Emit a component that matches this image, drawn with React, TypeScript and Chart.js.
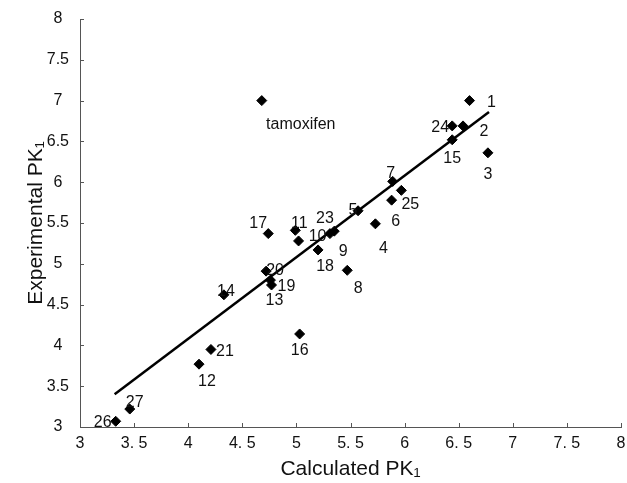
import React, { useEffect, useRef } from 'react';
import { Chart, registerables } from 'chart.js';

Chart.register(...registerables);

// ---- data ----
const pointNames = ['tamoxifen', '1', '2', '3', '4', '5', '6', '7', '8', '9', '10', '11', '12', '13', '14', '15', '16', '17', '18', '19', '20', '21', '23', '24', '25', '26', '27'];
const calculatedPK = [4.68, 6.60, 6.54, 6.77, 5.73, 5.57, 5.88, 5.89, 5.47, 5.35, 5.02, 4.99, 4.10, 4.77, 4.33, 6.44, 5.03, 4.74, 5.20, 4.76, 4.72, 4.21, 5.31, 6.44, 5.97, 3.33, 3.46];
const experimentalPK = [7.00, 7.00, 6.69, 6.36, 5.49, 5.65, 5.78, 6.01, 4.92, 5.40, 5.28, 5.41, 3.77, 4.74, 4.62, 6.52, 4.14, 5.37, 5.17, 4.80, 4.91, 3.95, 5.37, 6.69, 5.90, 3.07, 3.22];
const fitX = [3.32, 6.78];
const fitY = [3.40, 6.86];
const xTickLabels = ['3', '3. 5', '4', '4. 5', '5', '5. 5', '6', '6. 5', '7', '7. 5', '8'];
const yTickLabels = ['3', '3.5', '4', '4.5', '5', '5.5', '6', '6.5', '7', '7.5', '8'];

// label placement (pixel offsets of the label centre from its marker)
const labelOffsets: [number, number][] = [
  [39, 24], [22, 2], [21, 6], [0, 22], [8, 25], [-5, 0], [4, 21], [-2, -8], [11, 18], [9, 20],
  [19, -4], [4, -7], [8, 17], [3, 16], [2, -3], [0, 19], [0, 17], [-10, -10], [7, 17], [16, 6],
  [9, -1], [14, 2], [-5, -15], [-12, 2], [9, 14], [-13, 1], [5, -6],
];

const FONT = '"Liberation Sans", Arial, Helvetica, sans-serif';
const AXIS_COLOR = '#555';
const TEXT_COLOR = '#111';

const innerTicks = {
  id: 'innerTicks',
  afterDraw(chart: any) {
    const { ctx, chartArea, scales } = chart;
    ctx.save();
    ctx.strokeStyle = AXIS_COLOR;
    ctx.lineWidth = 1;
    ctx.beginPath();
    scales.x.ticks.forEach((t: any) => {
      const px = Math.round(scales.x.getPixelForValue(t.value)) + 0.5;
      ctx.moveTo(px, chartArea.bottom);
      ctx.lineTo(px, chartArea.bottom - 4);
    });
    scales.y.ticks.forEach((t: any) => {
      const py = Math.round(scales.y.getPixelForValue(t.value)) + 0.5;
      ctx.moveTo(chartArea.left, py);
      ctx.lineTo(chartArea.left + 4, py);
    });
    ctx.stroke();
    ctx.restore();
  },
};

const pointLabels = {
  id: 'pointLabels',
  afterDatasetsDraw(chart: any) {
    const { ctx } = chart;
    const meta = chart.getDatasetMeta(0);
    ctx.save();
    ctx.fillStyle = TEXT_COLOR;
    ctx.font = `16px ${FONT}`;
    ctx.textAlign = 'center';
    ctx.textBaseline = 'middle';
    meta.data.forEach((el: any, i: number) => {
      const [dx, dy] = labelOffsets[i] || [0, 0];
      ctx.fillText(pointNames[i], el.x + dx, el.y + dy);
    });
    ctx.restore();
  },
};

export default function App() {
  const ref = useRef<HTMLCanvasElement>(null);
  useEffect(() => {
    const chart = new Chart(ref.current!, {
      type: 'scatter',
      data: {
        datasets: [
          {
            label: 'compounds',
            data: calculatedPK.map((x, i) => ({ x, y: experimentalPK[i] })),
            pointStyle: 'rectRot',
            pointRadius: 5,
            pointHoverRadius: 5,
            backgroundColor: '#000',
            borderColor: '#000',
            borderWidth: 1,
          },
          {
            type: 'line',
            label: 'fit',
            data: fitX.map((x, i) => ({ x, y: fitY[i] })),
            borderColor: '#000',
            borderWidth: 2.5,
            pointRadius: 0,
            showLine: true,
            fill: false,
          } as any,
        ],
      },
      plugins: [innerTicks, pointLabels],
      options: {
        responsive: false,
        animation: false,
        layout: { padding: { top: 19, right: 6, left: 0, bottom: 0 } },
        plugins: { legend: { display: false }, tooltip: { enabled: false } },
        scales: {
          x: {
            type: 'linear',
            min: 3,
            max: 8,
            afterFit: (s: any) => { s.height = 56; s.paddingLeft = 0; s.paddingRight = 0; },
            ticks: {
              stepSize: 0.5,
              padding: 7,
              color: TEXT_COLOR,
              font: { family: FONT, size: 16 },
              callback: (v: any) => xTickLabels[Math.round((Number(v) - 3) * 2)] ?? '',
            },
            grid: { display: false, drawTicks: false },
            border: { display: true, color: AXIS_COLOR, width: 1 },
            title: {
              display: true,
              text: 'Calculated PK₁',
              color: TEXT_COLOR,
              font: { family: FONT, size: 21 },
              padding: { top: 0, bottom: 1 },
            },
          },
          y: {
            type: 'linear',
            min: 3,
            max: 8,
            afterFit: (s: any) => { s.width = 80; s.paddingTop = 0; s.paddingBottom = 0; },
            ticks: {
              stepSize: 0.5,
              padding: 11,
              crossAlign: 'center',
              color: TEXT_COLOR,
              font: { family: FONT, size: 16 },
              callback: (v: any) => yTickLabels[Math.round((Number(v) - 3) * 2)] ?? '',
            },
            grid: { display: false, drawTicks: false },
            border: { display: true, color: AXIS_COLOR, width: 1 },
            title: {
              display: true,
              text: 'Experimental PK₁',
              color: TEXT_COLOR,
              font: { family: FONT, size: 21 },
              padding: { top: 24, bottom: 0 },
            },
          },
        },
      },
    });
    return () => chart.destroy();
  }, []);
  return (
    <div style={{ position: 'absolute', left: 0, top: 0, width: 627, height: 483, background: '#fff' }}>
      <canvas ref={ref} width={627} height={483} style={{ display: 'block' }} />
    </div>
  );
}
